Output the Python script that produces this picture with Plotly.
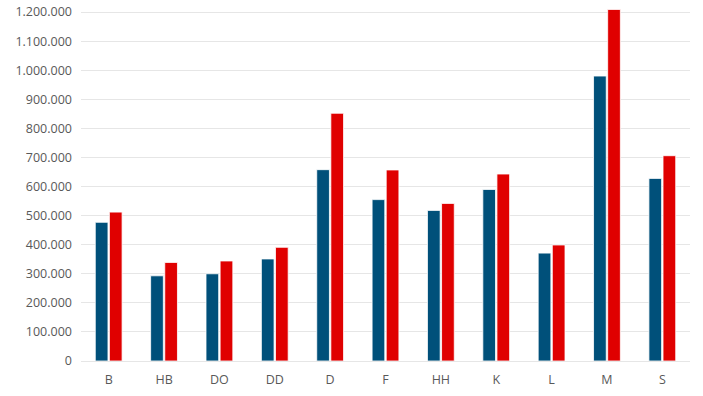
import plotly.graph_objects as go

categories = ["B", "HB", "DO", "DD", "D", "F", "HH", "K", "L", "M", "S"]
series_a = [477000, 293000, 300000, 351000, 658000, 555000, 518000, 590000, 371000, 980000, 628000]
series_b = [512000, 339000, 344000, 391000, 852000, 657000, 542000, 643000, 399000, 1209000, 706000]
tick_vals = [0, 100000, 200000, 300000, 400000, 500000, 600000, 700000, 800000, 900000, 1000000, 1100000, 1200000]

fig = go.Figure()
fig.add_trace(go.Bar(x=categories, y=series_a, marker=dict(color="#00507A", line=dict(color="#FFFFFF", width=0.8)), name="A"))
fig.add_trace(go.Bar(x=categories, y=series_b, marker=dict(color="#E00000", line=dict(color="#FFFFFF", width=0.8)), name="B"))

fig.update_layout(
    width=703, height=396,
    margin=dict(l=81, r=13, t=8, b=35, autoexpand=False),
    paper_bgcolor="white", plot_bgcolor="white",
    barmode="group", bargap=0.49, bargroupgap=0.1,
    showlegend=False,
    separators=",.",
    font=dict(family="Open Sans", size=12.5, color="#595959"),
)
fig.update_yaxes(range=[0, 1214000], tickvals=tick_vals, tickformat=",d",
                 showgrid=True, gridcolor="#E6E6E6", gridwidth=1,
                 zeroline=True, zerolinecolor="#E6E6E6", zerolinewidth=1,
                 ticks="", ticklabelstandoff=8, showline=False, automargin=False)
fig.update_xaxes(showgrid=False, showline=False, ticks="", ticklabelstandoff=9, automargin=False)

fig.write_html("out.html", config={"displayModeBar": False},
               post_script="document.body.style.margin='0';document.body.style.overflow='hidden';")
